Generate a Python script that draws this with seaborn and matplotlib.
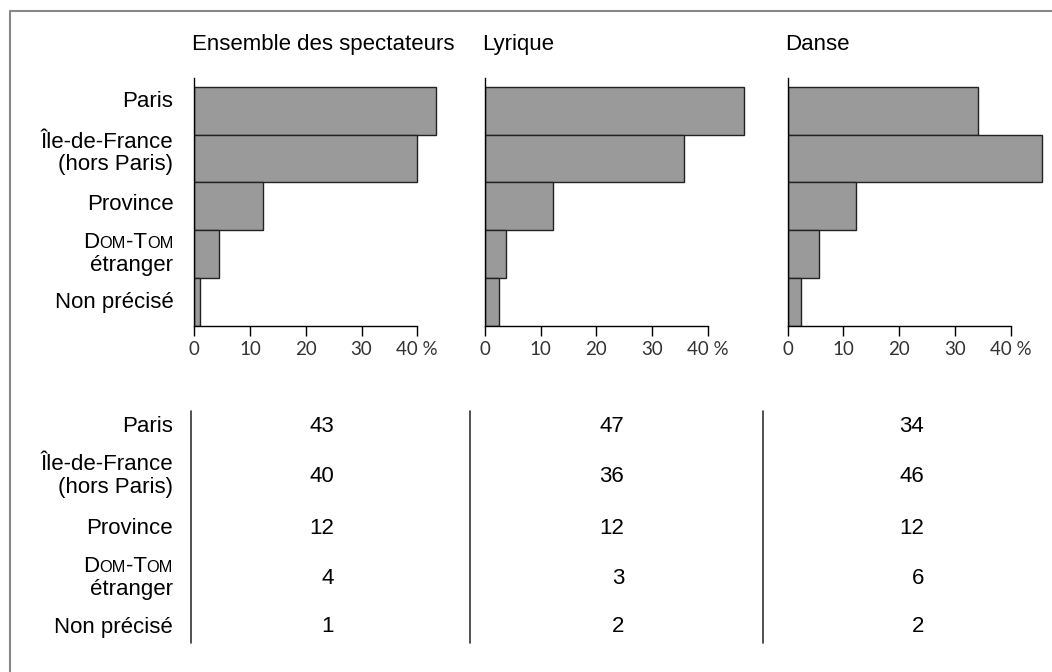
import matplotlib
matplotlib.use("Agg")
import matplotlib.pyplot as plt
from matplotlib.offsetbox import TextArea, HPacker, VPacker, AnnotationBbox
import pandas as pd
import seaborn as sns

# origine géographique des spectateurs (%)
# "Dom-Tom" : les minuscules sont rendues en petites capitales
categories = ["Paris", "Île-de-France\n(hors Paris)", "Province", "Dom-Tom\nétranger", "Non précisé"]
panel_titles = ["Ensemble des spectateurs", "Lyrique", "Danse"]

# longueurs des barres
ensemble_bars = [43.4, 40.0, 12.4, 4.5, 1.1]
lyrique_bars = [46.5, 35.7, 12.2, 3.8, 2.6]
danse_bars = [34.2, 45.7, 12.2, 5.7, 2.3]

# valeurs du tableau
ensemble_pct = [43, 40, 12, 4, 1]
lyrique_pct = [47, 36, 12, 3, 2]
danse_pct = [34, 46, 12, 6, 2]

x_ticks = [0, 10, 20, 30, 40]
x_ticklabels = ["0", "10", "20", "30", "40 %"]
smallcaps_lines = {"Dom-Tom"}

W, H = 1052, 672
LABEL_FONT = ["Liberation Sans", "DejaVu Sans"]
FS = 16
PX = 0.72  # points par pixel à 100 dpi

sns.set_style("ticks")
plt.rcParams["font.family"] = LABEL_FONT


def line_box(line, size=FS):
    if line not in smallcaps_lines:
        return TextArea(line, textprops=dict(size=size, family=LABEL_FONT, color="black"))
    runs = []
    for ch in line:
        small = ch.islower()
        if runs and runs[-1][1] == small:
            runs[-1][0] += ch.upper()
        else:
            runs.append([ch.upper(), small])
    parts = [TextArea(t, textprops=dict(size=size * 0.74 if s else size, family=LABEL_FONT, color="black"))
             for t, s in runs]
    return HPacker(children=parts, align="baseline", pad=0, sep=0)


def label_box(label):
    lines = [line_box(l) for l in label.split("\n")]
    return VPacker(children=lines, align="right", pad=0, sep=1.2)


def place_label(ax, label, xy, xycoords, dx=0, dy=0):
    ab = AnnotationBbox(label_box(label), xy, xycoords=xycoords, xybox=(dx, dy),
                        boxcoords="offset points", box_alignment=(1, 0.5),
                        frameon=False, pad=0, annotation_clip=False)
    ax.add_artist(ab)


df = pd.DataFrame({
    "origine": categories * 3,
    "part": ensemble_bars + lyrique_bars + danse_bars,
    "public": [t for t in panel_titles for _ in categories],
})

fig = plt.figure(figsize=(W / 100, H / 100), dpi=100)

# fond : cadre + tableau, en coordonnées pixels
ax_bg = fig.add_axes([0, 0, 1, 1])
ax_bg.set_xlim(0, W)
ax_bg.set_ylim(H, 0)
ax_bg.axis("off")
ax_bg.patch.set_alpha(0)
ax_bg.plot([10, 10, W], [H, 11, 11], color="#888888", lw=1.5, clip_on=False)

panel_left = [194.3, 484.8, 787.7]
px_per_unit = 223 / 40
label_nudge = [9, 5, 2, 0, 0]

for title, left in zip(panel_titles, panel_left):
    ax = fig.add_axes([left / W, 1 - 326 / H, 47 * px_per_unit / W, 247.7 / H])
    sns.barplot(data=df[df["public"] == title], x="part", y="origine", order=categories,
                orient="h", color="#9a9a9a", saturation=1, width=1, errorbar=None,
                edgecolor="#222222", linewidth=1, ax=ax)
    ax.set_xlim(0, 47)
    ax.set_ylim(4.5, -0.675)
    ax.set_xlabel("")
    ax.set_ylabel("")
    ax.set_yticks([])
    ax.patch.set_alpha(0)
    for s in ["top", "right"]:
        ax.spines[s].set_visible(False)
    ax.spines["bottom"].set_bounds(0, 40)
    ax.spines["left"].set_linewidth(1)
    ax.spines["bottom"].set_linewidth(1)
    ax.spines["left"].set_color("black")
    ax.spines["bottom"].set_color("black")
    ax.set_xticks(x_ticks, x_ticklabels)
    for t in ax.get_xticklabels():
        t.set_fontfamily(["Lato", "DejaVu Sans"])
        t.set_fontsize(13.5)
        t.set_color("#333333")
    ax.tick_params(axis="x", length=7.5, width=1, pad=3, color="black", direction="out")
    fig.text((left - 2.5) / W, 1 - 50 / H, title, ha="left", va="baseline", size=FS, color="black")

    if left == panel_left[0]:
        for i, cat in enumerate(categories):
            place_label(ax, cat, (0, i), ax.get_yaxis_transform(),
                        dx=-21 * PX, dy=label_nudge[i] * PX)

# tableau
col_lines = [191, 470, 763]
val_right = [334, 624, 924]
row_y = [426, 476, 529, 578, 627]
for x_line, x_val, vals in zip(col_lines, val_right, [ensemble_pct, lyrique_pct, danse_pct]):
    ax_bg.plot([x_line, x_line], [411, 643], color="#333333", lw=1.2)
    for y, v in zip(row_y, vals):
        ax_bg.text(x_val, y, str(v), ha="right", va="center", size=FS, color="black")
for y, cat in zip(row_y, categories):
    place_label(ax_bg, cat, (173, y), "data")

fig.savefig("out.png", dpi=100)
